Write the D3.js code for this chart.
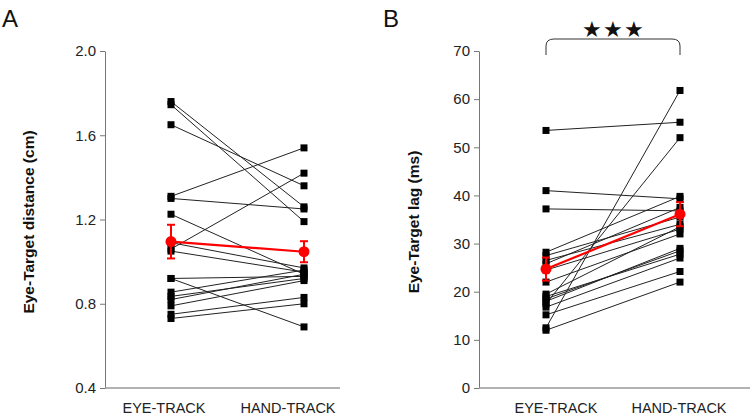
<!DOCTYPE html>
<html><head><meta charset="utf-8">
<script src="https://cdn.jsdelivr.net/npm/d3@7"></script>
<style>body{margin:0;background:#fff}svg{display:block}text{font-family:"Liberation Sans",Arial,sans-serif}</style>
</head><body><svg id="c" width="750" height="417"></svg>
<script>
const categories = ["EYE-TRACK", "HAND-TRACK"];
// Panel A: Eye-Target distance (cm), per subject
const distEye  = [1.76,1.745,1.65,1.31,1.30,1.225,1.06,1.09,1.05,0.92,0.92,0.855,0.835,0.82,0.79,0.75,0.73];
const distHand = [1.26,1.19,1.36,1.54,1.25,0.94,1.42,0.97,0.95,0.93,0.69,0.96,0.92,0.94,0.91,0.83,0.80];
const distMean = [1.095, 1.047];
const distErr  = [0.08, 0.05];
const distTicks = [0.4, 0.8, 1.2, 1.6, 2.0];
// Panel B: Eye-Target lag (ms), per subject
const lagEye  = [53.5,41.0,37.2,28.2,27.5,26.5,25.8,24.5,22.0,19.5,18.5,17.5,16.8,15.2,12.5,12.0,18.0,19.0];
const lagHand = [55.2,39.3,36.8,39.8,35.5,34.0,37.5,33.0,32.0,33.5,28.5,52.0,27.0,24.2,61.8,22.0,29.0,27.8];
const lagMean = [24.7, 36.1];
const lagErr  = [2.4, 2.5];
const lagTicks = [0,10,20,30,40,50,60,70];

const svg = d3.select("#c");

function panel(o){
  const g = svg.append("g");
  const y = d3.scaleLinear().domain(o.domain).range([388, 51]);
  const x = d3.scalePoint().domain(categories).range(o.xr);
  // axes
  const ya = g.append("g").attr("transform",`translate(${o.ax},0)`)
    .call(d3.axisLeft(y).tickValues(o.ticks).tickFormat(o.fmt).tickSize(5).tickSizeOuter(0));
  ya.select(".domain").attr("stroke","#777");
  ya.selectAll(".tick line").attr("stroke","#777");
  ya.selectAll(".tick text").attr("font-size",15).attr("fill","#222").attr("x",-9);
  g.append("line").attr("x1",o.ax).attr("x2",o.axEnd).attr("y1",388).attr("y2",388).attr("stroke","#999").attr("stroke-width",1.5);
  // category labels
  categories.forEach((c,i)=>{
    g.append("text").attr("x",o.lx[i]).attr("y",413).attr("text-anchor","middle")
     .attr("font-size",14.5).attr("fill","#222").text(c);
  });
  // y label
  g.append("text").attr("transform",`translate(${o.ylx},${222}) rotate(-90)`).attr("text-anchor","middle")
   .attr("font-size",15.5).attr("font-weight","bold").attr("fill","#111").text(o.ylab);
  // letter
  g.append("text").attr("x",o.letterX).attr("y",27).attr("font-size",24).attr("fill","#111").text(o.letter);
  // subject lines
  const pairs = o.a.map((v,i)=>[v,o.b[i]]);
  g.selectAll(".subj").data(pairs).enter().append("line")
    .attr("x1",x(categories[0])).attr("x2",x(categories[1]))
    .attr("y1",d=>y(d[0])).attr("y2",d=>y(d[1]))
    .attr("stroke","#222").attr("stroke-width",1);
  const pts = [];
  pairs.forEach(p=>{pts.push([categories[0],p[0]]);pts.push([categories[1],p[1]]);});
  g.selectAll(".pt").data(pts).enter().append("rect")
    .attr("x",d=>x(d[0])-3.5).attr("y",d=>y(d[1])-3.5).attr("width",7).attr("height",7).attr("fill","#000");
  // mean
  g.append("line").attr("x1",x(categories[0])).attr("x2",x(categories[1]))
    .attr("y1",y(o.mean[0])).attr("y2",y(o.mean[1])).attr("stroke","#f00").attr("stroke-width",2.2);
  categories.forEach((c,i)=>{
    const cx = x(c), m=o.mean[i], e=o.err[i];
    g.append("line").attr("x1",cx).attr("x2",cx).attr("y1",y(m-e)).attr("y2",y(m+e)).attr("stroke","#f00").attr("stroke-width",2);
    [m-e,m+e].forEach(v=>g.append("line").attr("x1",cx-4).attr("x2",cx+4).attr("y1",y(v)).attr("y2",y(v)).attr("stroke","#f00").attr("stroke-width",2));
    g.append("circle").attr("cx",cx).attr("cy",y(m)).attr("r",5.5).attr("fill","#f00");
  });
  return {x,y,g};
}

panel({domain:[0.4,2.0], ticks:distTicks, fmt:d3.format(".1f"), ax:105, axEnd:340, xr:[171,304], lx:[164,288],
  ylab:"Eye-Target distance (cm)", ylx:34, letter:"A", letterX:2, a:distEye, b:distHand, mean:distMean, err:distErr});
const pB = panel({domain:[0,70], ticks:lagTicks, fmt:d3.format("d"), ax:479, axEnd:750, xr:[546,680], lx:[556,679],
  ylab:"Eye-Target lag (ms)", ylx:419, letter:"B", letterX:383, a:lagEye, b:lagHand, mean:lagMean, err:lagErr});
// significance bracket
const bx1 = pB.x(categories[0]), bx2 = pB.x(categories[1]);
pB.g.append("path").attr("d",`M${bx1},55 L${bx1},46 Q${bx1},39 ${bx1+8},39 L${bx2-8},39 Q${bx2},39 ${bx2},46 L${bx2},55`)
  .attr("fill","none").attr("stroke","#333").attr("stroke-width",1);
pB.g.append("text").attr("x",(bx1+bx2)/2).attr("y",37).attr("text-anchor","middle").attr("font-size",22)
  .attr("font-family","DejaVu Sans").attr("fill","#111").attr("letter-spacing",1).text("★★★");
</script></body></html>
